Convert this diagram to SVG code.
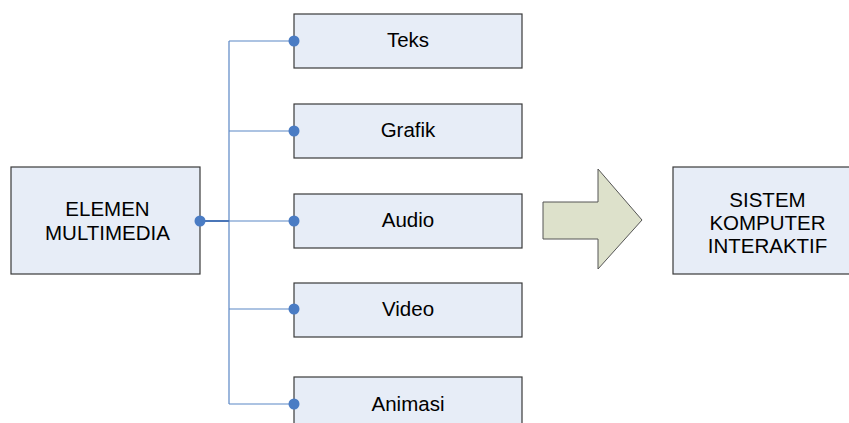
<svg xmlns="http://www.w3.org/2000/svg" width="849" height="423" viewBox="0 0 849 423">
<style>
.box{fill:#E7EDF7;stroke:#3a3a3a;stroke-width:1.2}
.t{font-family:"Liberation Sans",Arial,sans-serif;font-size:20.5px;fill:#000;text-anchor:middle}
.c{fill:none;stroke:#5B87C5;stroke-width:1.2}
.d{fill:#4A7CC4}
</style>
<rect width="849" height="423" fill="#fff"/>
<g id="elemen"><rect class="box" x="11" y="167" width="189" height="107"/><text class="t" x="107.5" y="216">ELEMEN</text><text class="t" x="107.5" y="240">MULTIMEDIA</text></g>
<g id="teks"><rect class="box" x="294" y="14" width="228" height="54"/><text class="t" x="408" y="47">Teks</text></g>
<g id="grafik"><rect class="box" x="294" y="104" width="228" height="54"/><text class="t" x="408" y="137">Grafik</text></g>
<g id="audio"><rect class="box" x="294" y="194" width="228" height="54"/><text class="t" x="408" y="227">Audio</text></g>
<g id="video"><rect class="box" x="294" y="283" width="228" height="54"/><text class="t" x="408" y="316">Video</text></g>
<g id="animasi"><rect class="box" x="294" y="377" width="228" height="54"/><text class="t" x="408" y="411">Animasi</text></g>
<g id="arrow"><path d="M543 202H598V169L642 220L598 269V239H543Z" fill="#DDE1CB" stroke="#555" stroke-width="1"/></g>
<g id="sistem"><rect class="box" x="673" y="167" width="190" height="107"/><text class="t" x="767.5" y="207">SISTEM</text><text class="t" x="767.5" y="230">KOMPUTER</text><text class="t" x="767.5" y="253">INTERAKTIF</text></g>
<g id="connectors">
<path class="c" d="M229 41V404M229 41H294M229 131H294M229 221H294M229 309H294M229 404H294"/>
<path d="M200 221H229" stroke="#4A76B8" stroke-width="2" fill="none"/>
<circle class="d" cx="200" cy="221" r="5.5"/>
<circle class="d" cx="294" cy="41" r="5.5"/>
<circle class="d" cx="294" cy="131" r="5.5"/>
<circle class="d" cx="294" cy="221" r="5.5"/>
<circle class="d" cx="294" cy="309" r="5.5"/>
<circle class="d" cx="294" cy="404" r="5.5"/>
</g>
</svg>
